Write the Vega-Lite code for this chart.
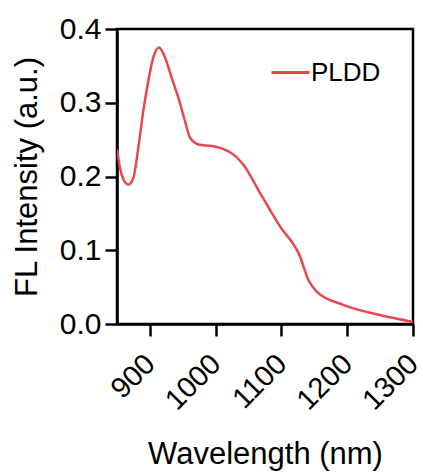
{
  "$schema": "https://vega.github.io/schema/vega-lite/v6.json",
  "autosize": "none",
  "padding": {"left": 117, "top": 29, "right": 10, "bottom": 149},
  "width": 296,
  "height": 295,
  "background": "white",
  "config": {
    "font": "Liberation Sans",
    "view": {"stroke": "black", "strokeWidth": 2.5},
    "axis": {"grid": false, "domainColor": "black", "domainWidth": 2.5, "tickColor": "black", "tickWidth": 2.5, "tickSize": 12, "labelColor": "black", "titleColor": "black", "labelFont": "Liberation Sans", "titleFont": "Liberation Sans", "titleFontWeight": "normal"}
  },
  "data": {"values": [
    {"w": 850, "v": 0.2367, "s": "PLDD"},
    {"w": 857, "v": 0.2027, "s": "PLDD"},
    {"w": 867.2, "v": 0.189, "s": "PLDD"},
    {"w": 874.8, "v": 0.198, "s": "PLDD"},
    {"w": 882.4, "v": 0.239, "s": "PLDD"},
    {"w": 890, "v": 0.289, "s": "PLDD"},
    {"w": 897.6, "v": 0.3296, "s": "PLDD"},
    {"w": 905.2, "v": 0.3615, "s": "PLDD"},
    {"w": 913.8, "v": 0.375, "s": "PLDD"},
    {"w": 923, "v": 0.3615, "s": "PLDD"},
    {"w": 933.1, "v": 0.334, "s": "PLDD"},
    {"w": 943.2, "v": 0.307, "s": "PLDD"},
    {"w": 953.4, "v": 0.275, "s": "PLDD"},
    {"w": 961, "v": 0.2526, "s": "PLDD"},
    {"w": 973.6, "v": 0.2435, "s": "PLDD"},
    {"w": 994, "v": 0.2413, "s": "PLDD"},
    {"w": 1008, "v": 0.2385, "s": "PLDD"},
    {"w": 1026.8, "v": 0.23, "s": "PLDD"},
    {"w": 1042, "v": 0.2163, "s": "PLDD"},
    {"w": 1067.4, "v": 0.1778, "s": "PLDD"},
    {"w": 1097.8, "v": 0.1324, "s": "PLDD"},
    {"w": 1128.2, "v": 0.0916, "s": "PLDD"},
    {"w": 1140.8, "v": 0.0599, "s": "PLDD"},
    {"w": 1153.6, "v": 0.044, "s": "PLDD"},
    {"w": 1194, "v": 0.0259, "s": "PLDD"},
    {"w": 1249.8, "v": 0.0122, "s": "PLDD"},
    {"w": 1300, "v": 0.0028, "s": "PLDD"}
  ]},
  "mark": {"type": "line", "interpolate": "monotone", "strokeWidth": 2.5, "clip": true},
  "encoding": {
    "x": {"field": "w", "type": "quantitative", "scale": {"domain": [850, 1300], "nice": false, "zero": false},
      "axis": {"title": "Wavelength (nm)", "values": [900, 1000, 1100, 1200, 1300], "format": "d", "labelOverlap": false, "labelBound": false, "labelAngle": -45, "labelAlign": "right", "labelBaseline": "middle", "labelFontSize": 29, "titleFontSize": 31, "labelPadding": 23, "titlePadding": 24}},
    "y": {"field": "v", "type": "quantitative", "scale": {"domain": [0, 0.4], "nice": false},
      "axis": {"title": "FL Intensity (a.u.)", "values": [0, 0.1, 0.2, 0.3, 0.4], "format": ".1f", "labelFontSize": 30, "titleFontSize": 31, "labelPadding": 4, "titlePadding": 16}},
    "color": {"field": "s", "type": "nominal", "scale": {"range": ["#e8474c"]},
      "legend": {"title": null, "orient": "none", "legendX": 153, "legendY": 23, "padding": 0, "symbolType": "stroke", "symbolSize": 1444, "symbolStrokeWidth": 3, "labelFontSize": 26, "labelColor": "black", "labelOffset": 0}}
  }
}
